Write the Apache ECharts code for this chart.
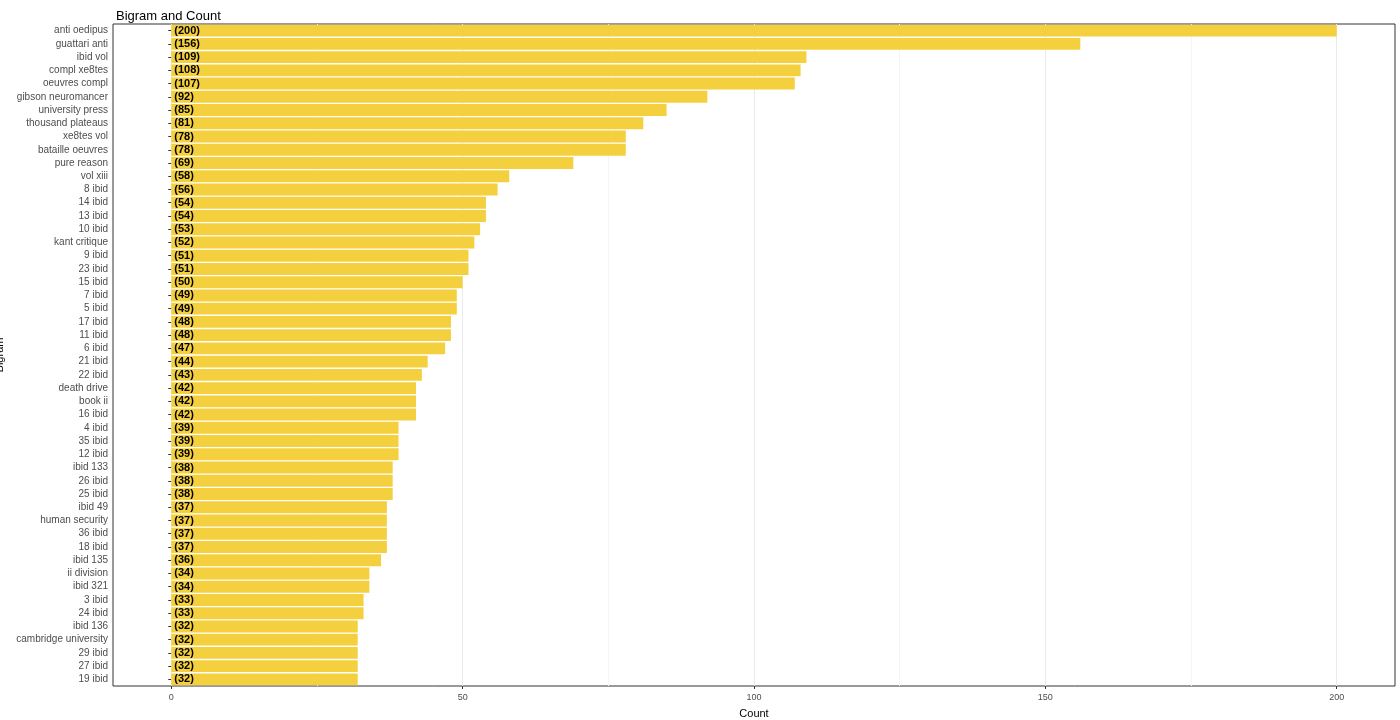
<!DOCTYPE html>
<html><head><meta charset="utf-8">
<script src="https://cdn.jsdelivr.net/npm/echarts@6/dist/echarts.min.js"></script>
<style>html,body{margin:0;padding:0;background:#fff}#chart{width:1400px;height:720px}</style>
</head><body><div id="chart"></div>
<script>
// bigrams top to bottom
var bigrams = ['anti oedipus','guattari anti','ibid vol','compl xe8tes','oeuvres compl','gibson neuromancer','university press','thousand plateaus','xe8tes vol','bataille oeuvres','pure reason','vol xiii','8 ibid','14 ibid','13 ibid','10 ibid','kant critique','9 ibid','23 ibid','15 ibid','7 ibid','5 ibid','17 ibid','11 ibid','6 ibid','21 ibid','22 ibid','death drive','book ii','16 ibid','4 ibid','35 ibid','12 ibid','ibid 133','26 ibid','25 ibid','ibid 49','human security','36 ibid','18 ibid','ibid 135','ii division','ibid 321','3 ibid','24 ibid','ibid 136','cambridge university','29 ibid','27 ibid','19 ibid'];
var counts = [200,156,109,108,107,92,85,81,78,78,69,58,56,54,54,53,52,51,51,50,49,49,48,48,47,44,43,42,42,42,39,39,39,38,38,38,37,37,37,37,36,34,34,33,33,32,32,32,32,32];
var xTicks = [0,50,100,150,200];
var minorLines = [25,75,125,175];

var chart = echarts.init(document.getElementById('chart'));
chart.setOption({
	animation:false,
	title:{text:'Bigram and Count',left:111,top:5,textStyle:{fontSize:13,fontWeight:'normal',color:'#000',fontFamily:'Liberation Sans'}},
	grid:{left:113,right:5,top:24,bottom:34,outerBoundsMode:'none',containLabel:false,show:true,borderColor:'#333',borderWidth:1,backgroundColor:'transparent'},
	xAxis:{type:'value',min:-10,max:210,
		name:'Count',nameLocation:'middle',nameGap:22,nameTextStyle:{fontSize:11,color:'#000',fontFamily:'Liberation Sans'},
		axisLine:{show:false},axisTick:{show:true,length:3,customValues:xTicks,lineStyle:{color:'#333'}},
		axisLabel:{fontSize:9,color:'#4d4d4d',margin:7,fontFamily:'Liberation Sans',customValues:xTicks},
		splitLine:{show:false}},
	yAxis:{type:'category',data:bigrams,inverse:true,
		name:'Bigram',nameLocation:'middle',nameGap:100,nameTextStyle:{fontSize:11,color:'#000',fontFamily:'Liberation Sans'},
		axisLine:{show:false},axisTick:{show:true,length:3,alignWithLabel:true,lineStyle:{color:'#333'}},
		axisLabel:{fontSize:10,color:'#4d4d4d',margin:5,fontFamily:'Liberation Sans'},
		splitLine:{show:false}},
	series:[{type:'bar',data:counts,barCategoryGap:'10%',
		itemStyle:{color:'#f5d03e'},
		label:{show:true,position:'insideLeft',distance:3,fontSize:11,fontWeight:'bold',color:'#000',fontFamily:'Liberation Sans',
			formatter:function(p){return '('+p.value+')';}},
		markLine:{silent:true,symbol:'none',label:{show:false},z:0,
			lineStyle:{color:'#ebebeb',type:'solid',width:1},
			data:xTicks.map(function(v){return {xAxis:v};}).concat(
				minorLines.map(function(v){return {xAxis:v,lineStyle:{color:'#f5f5f5'}};}))}
	}]
});
</script></body></html>
